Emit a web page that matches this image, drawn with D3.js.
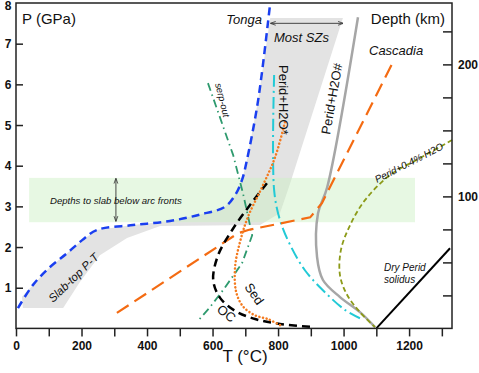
<!DOCTYPE html>
<html>
<head>
<meta charset="utf-8">
<script src="https://cdn.jsdelivr.net/npm/d3@7"></script>
<style>
  body { margin: 0; background: #fff; }
  svg { font-family: "Liberation Sans", Arial, sans-serif; }
</style>
</head>
<body>
<div id="chart"></div>
<script>
// ---- data (T in °C, P in GPa) ----
const tTicks = [0, 100, 200, 300, 400, 500, 600, 700, 800, 900, 1000, 1100, 1200, 1300];
const tLabels = [0, 200, 400, 600, 800, 1000, 1200];
const pTicks = [1, 2, 3, 4, 5, 6, 7];
const pLabels = [1, 2, 3, 4, 5, 6, 7, 8];
const depthTicks = [25, 50, 75, 100, 125, 150, 175, 200, 225];
const depthLabels = [100, 200];

const slabTopRegion = [[21,0.5],[144,0.5],[195,1.14],[256,1.8],[339,2.22],[440,2.52],[745,2.54],[806,2.84],[837,3.57],[998,7.63],
  [776,7.63],[739,5.6],[705,4.14],[690,3.65],[669,3.28],[638,2.99],[562,2.8],[470,2.64],[357,2.54],[247,2.42],[202,2.17],
  [156,1.85],[104,1.51],[52,1.07],[18,0.78]];
const arcBand = { t0: 40, t1: 1218, p0: 2.61, p1: 3.7 };

const tonga = [[6,0.5],[52,1.07],[104,1.51],[156,1.85],[202,2.17],[247,2.42],[357,2.54],[470,2.64],[562,2.8],[638,2.99],
  [669,3.28],[690,3.65],[705,4.14],[739,5.6],[776,8]];
const cascadia = [[308,0.38],[678,2.34],[709,2.42],[898,2.73],[934,3.08],[1151,6.55]];
const oc = [[766,3.57],[714,3.03],[660,2.42],[617,1.8],[602,1.19],[623,0.75],[669,0.43],[730,0.23],[806,0.11],[907,0.035]];
const sed = [[821,5.07],[791,4.21],[751,3.47],[708,2.74],[684,2.13],[669,1.52],[672,0.9],[693,0.54],[730,0.32],[769,0.23],[806,0.08]];
const serpOut = [[586,6.03],[663,4.26],[693,3.32],[721,2.29],[690,1.6],[632,0.94],[592,0.52],[553,0.16]];
const peridH2Ostar = [[788,6.23],[788,3.4],[806,2.66],[837,2.05],[882,1.43],[943,0.89],[1005,0.45],[1050,0.25]];
const peridH2Ohash = [[1044,7.65],[950,3.47],[922,2.83],[919,1.76],[937,1.19],[989,0.77],[1050,0.4],[1096,0.03]];
const perid04 = [[1331,4.63],[1234,4.19],[1142,3.77],[1066,3.16],[1020,2.54],[992,1.93],[989,1.31],[1011,0.82],[1050,0.4],[1096,0.03]];
const drySolidus = [[1100,0],[1325,1.97]];

// ---- layout ----
const width = 479, height = 373;
const margin = { top: 3, right: 27, bottom: 45, left: 16 };
const x = d3.scaleLinear().domain([0, 1331]).range([margin.left, width - margin.right]);
const y = d3.scaleLinear().domain([0, 8]).range([328.4, margin.top]);
const yDepth = d3.scaleLinear().domain([0, 246.5]).range([328.4, margin.top]);

const svg = d3.select("#chart").append("svg")
  .attr("width", width).attr("height", height);

// shaded regions
svg.append("path")
  .datum(slabTopRegion)
  .attr("d", d3.line().x(d => x(d[0])).y(d => y(d[1])).curve(d3.curveLinearClosed))
  .attr("fill", "#e3e3e3");

svg.append("rect")
  .attr("x", x(arcBand.t0)).attr("y", y(arcBand.p1))
  .attr("width", x(arcBand.t1) - x(arcBand.t0))
  .attr("height", y(arcBand.p0) - y(arcBand.p1))
  .attr("fill", "#c9f0c0").attr("opacity", 0.45);

// arrow markers
const defs = svg.append("defs");
defs.append("marker").attr("id", "ah").attr("viewBox", "0 0 10 10")
  .attr("refX", 9).attr("refY", 5).attr("markerWidth", 6).attr("markerHeight", 6)
  .attr("orient", "auto-start-reverse")
  .append("path").attr("d", "M0,1.5 L10,5 L0,8.5").attr("fill", "none").attr("stroke", "#333").attr("stroke-width", 1.5);

svg.append("line")
  .attr("x1", x(305)).attr("x2", x(305)).attr("y1", y(3.68)).attr("y2", y(2.64))
  .attr("stroke", "#333").attr("stroke-width", 0.9)
  .attr("marker-start", "url(#ah)").attr("marker-end", "url(#ah)");
svg.append("line")
  .attr("x1", x(778)).attr("x2", x(998)).attr("y1", y(7.5)).attr("y2", y(7.5))
  .attr("stroke", "#333").attr("stroke-width", 0.9)
  .attr("marker-start", "url(#ah)").attr("marker-end", "url(#ah)");

// curves
const line = d3.line().x(d => x(d[0])).y(d => y(d[1])).curve(d3.curveCatmullRom.alpha(0.5));
const straight = d3.line().x(d => x(d[0])).y(d => y(d[1]));

function draw(data, color, w, dash, gen, cap) {
  svg.append("path").datum(data)
    .attr("d", gen || line)
    .attr("fill", "none")
    .attr("stroke", color)
    .attr("stroke-width", w)
    .attr("stroke-dasharray", dash)
    .attr("stroke-linecap", cap || "butt");
}

draw(serpOut, "#2e9a6e", 1.8, "8,4,1.5,4", straight);
draw(peridH2Ostar, "#22cad6", 2, "12,4,2,4");
draw(peridH2Ohash, "#a6a6a6", 2.5, null);
draw(perid04, "#8c9a18", 1.8, "5,3");
draw(drySolidus, "#000", 2, null, straight);
draw(cascadia, "#f46b12", 2.2, "14,7", straight);
draw(oc, "#000", 2.5, "8,5");
draw(sed, "#f47a1e", 2.5, "0.1,3.6", null, "round");
draw(tonga, "#1a3ff0", 2.5, "8,5");

// frame
svg.append("rect")
  .attr("x", x(0)).attr("y", y(8))
  .attr("width", x(1331) - x(0)).attr("height", y(0) - y(8))
  .attr("fill", "none").attr("stroke", "#222").attr("stroke-width", 1.5);

// bottom axis
const xAxis = svg.append("g").attr("transform", `translate(0,${y(0)})`)
  .call(d3.axisBottom(x).tickValues(tTicks).tickSize(8)
    .tickFormat(d => tLabels.includes(d) ? d : ""));
xAxis.select(".domain").remove();
xAxis.selectAll("line").attr("stroke", "#222").attr("stroke-width", 1.5);
xAxis.selectAll("text").attr("font-size", 12).attr("font-weight", "bold")
  .attr("fill", "#111").attr("font-family", "Liberation Sans, Arial, sans-serif").attr("dy", "0.9em");

// left axis (ticks inside)
const yAxis = svg.append("g").attr("transform", `translate(${x(0)},0)`)
  .call(d3.axisLeft(y).tickValues(pTicks).tickSize(-7).tickFormat(""));
yAxis.select(".domain").remove();
yAxis.selectAll("line").attr("stroke", "#222").attr("stroke-width", 1.5);
svg.selectAll(".plab").data(pLabels).enter().append("text")
  .attr("x", 8).attr("y", d => Math.max(y(d) + 4.5, 10))
  .attr("text-anchor", "middle").attr("font-size", 12).attr("font-weight", "bold")
  .attr("fill", "#111").text(d => d);

// right depth axis (ticks inside)
const dAxis = svg.append("g").attr("transform", `translate(${x(1331)},0)`)
  .call(d3.axisRight(yDepth).tickValues(depthTicks).tickSize(-9).tickFormat(""));
dAxis.select(".domain").remove();
dAxis.selectAll("line").attr("stroke", "#222").attr("stroke-width", 1.5);
svg.selectAll(".dlab").data(depthLabels).enter().append("text")
  .attr("x", 458).attr("y", d => yDepth(d) + 4.5)
  .attr("font-size", 12).attr("font-weight", "bold")
  .attr("fill", "#111").text(d => d);

// axis titles
svg.append("text").attr("x", 245).attr("y", 362).attr("text-anchor", "middle")
  .attr("font-size", 17).attr("fill", "#111").text("T (°C)");
svg.append("text").attr("x", 22).attr("y", 24)
  .attr("font-size", 15).attr("fill", "#111").text("P (GPa)");
svg.append("text").attr("x", 445).attr("y", 24).attr("text-anchor", "end")
  .attr("font-size", 15).attr("fill", "#111").text("Depth (km)");

// annotations
function label(txt, px, py, size, rot, italic, anchor) {
  svg.append("text")
    .attr("transform", `translate(${px},${py}) rotate(${rot || 0})`)
    .attr("font-size", size)
    .attr("font-style", italic ? "italic" : "normal")
    .attr("text-anchor", anchor || "start")
    .attr("fill", "#111")
    .text(txt);
}
label("Tonga", 262, 24, 13, 0, true, "end");
label("Most SZs", 274, 42, 13, 0, true);
label("Cascadia", 369, 55, 13, 0, true);
label("Perid+H2O*", 279, 65, 13, 90, false);
label("Perid+H2O#", 330, 135, 13, -80, false);
label("serp-out", 215, 84, 9.5, 76, true);
label("Slab-top P-T", 53, 303, 11.5, -44, true);
label("Depths to slab below arc fronts", 50, 204, 9.6, 0, true);
label("Perid+0.4% H2O", 377, 183, 10, -27, true);
label("Dry Perid", 384, 271, 10, 0, true);
label("solidus", 384, 283, 10, 0, true);
label("Sed", 244, 287, 13, 55, false);
label("OC", 216, 311, 13, 38, false);
</script>
</body>
</html>
